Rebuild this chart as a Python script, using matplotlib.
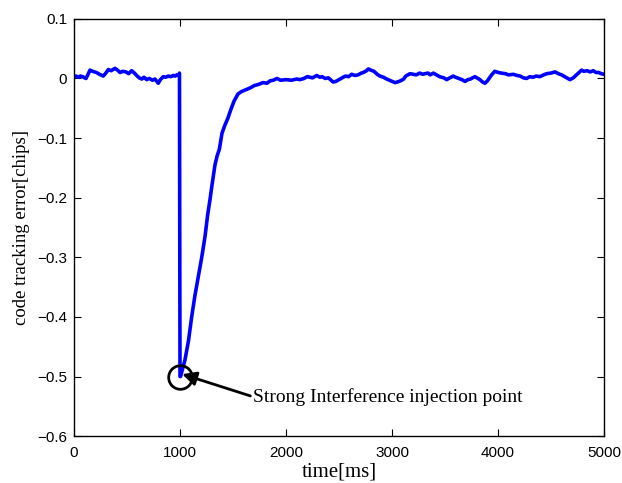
import matplotlib
matplotlib.use("Agg")
import matplotlib.pyplot as plt
from matplotlib.ticker import FuncFormatter

# time axis [ms] and code tracking error [chips]
t_ms = [0, 20, 40, 60, 80, 100, 113, 130, 151, 175, 212, 240, 276, 300, 324,
        350, 387, 410, 434, 460, 490, 515, 544, 570, 591, 615, 640, 660, 686,
        710, 740, 764, 795, 815, 842, 865, 890, 915, 937, 955, 970, 985, 995,
        1000,
        1005, 1020, 1047, 1080, 1110, 1140, 1173, 1205, 1236, 1260, 1283, 1305,
        1330, 1350, 1371, 1396, 1420, 1453, 1480, 1510, 1547, 1580, 1620, 1660,
        1700, 1740, 1783, 1820, 1850, 1880, 1915, 1950, 2000, 2050, 2100,
        2132, 2170, 2200, 2250, 2290, 2320, 2340, 2370, 2400, 2445, 2470, 2500,
        2530, 2560, 2590, 2620, 2650, 2680, 2710, 2730, 2760, 2777, 2800, 2830,
        2860, 2887, 2920, 2950, 2990, 3028, 3050, 3080, 3110, 3130, 3170, 3200,
        3230, 3260, 3290, 3310, 3340, 3360, 3390, 3420, 3450, 3490, 3516, 3545,
        3578, 3600, 3630, 3660, 3689, 3715, 3740, 3760, 3783, 3810, 3830, 3855,
        3877, 3900, 3940, 3970, 4003, 4030, 4070, 4100, 4145, 4180, 4210, 4240,
        4271, 4300, 4330, 4360, 4396, 4430, 4460, 4500, 4538, 4570, 4600, 4640,
        4679, 4710, 4740, 4765, 4789, 4810, 4840, 4870, 4899, 4925, 4950, 4975,
        5000]
err = [0.003, 0.004, 0.002, 0.004, 0.003, 0.001, 0.000, 0.006, 0.014, 0.012,
       0.010, 0.007, 0.004, 0.009, 0.015,
       0.013, 0.017, 0.014, 0.010, 0.012, 0.011, 0.008, 0.013, 0.009, 0.005,
       0.001, -0.001, 0.002, -0.002,
       0.000, -0.003, -0.001, -0.008, -0.002, 0.003, 0.002, 0.004, 0.003, 0.005,
       0.004, 0.006, 0.005, 0.009,
       -0.500,
       -0.500, -0.490, -0.472, -0.440, -0.400, -0.365, -0.332, -0.300, -0.265,
       -0.230, -0.203, -0.175,
       -0.145, -0.130, -0.119, -0.092, -0.080, -0.066, -0.052, -0.038, -0.026,
       -0.022, -0.019, -0.016,
       -0.012, -0.010, -0.007, -0.008, -0.004, -0.003, 0.000, -0.003, -0.002,
       -0.003, -0.001,
       -0.002, 0.000, 0.003, 0.001, 0.005, 0.002, 0.003, 0.000, 0.001, -0.006,
       -0.005, -0.002,
       0.001, 0.004, 0.003, 0.007, 0.005, 0.006, 0.009, 0.010, 0.013,
       0.016, 0.014, 0.012,
       0.007, 0.004, 0.002, -0.001, -0.004, -0.007, -0.006, -0.004, -0.001,
       0.004, 0.008, 0.007,
       0.006, 0.009, 0.007, 0.008, 0.009, 0.006, 0.009, 0.006, 0.003, 0.001,
       -0.002, 0.001,
       0.004, 0.002, 0.000, -0.002, -0.005, -0.002, -0.001, 0.001, 0.003,
       0.000, -0.002, -0.006,
       -0.008, -0.004, 0.006, 0.012, 0.010, 0.009, 0.008, 0.006, 0.007, 0.005,
       0.004, 0.001,
       0.000, 0.003, 0.002, 0.004, 0.003, 0.006, 0.008, 0.009, 0.011, 0.008,
       0.006, 0.002,
       -0.002, 0.001, 0.006, 0.010, 0.014, 0.012, 0.013, 0.011, 0.013, 0.010,
       0.010, 0.008,
       0.007]

x_ticks = [0, 1000, 2000, 3000, 4000, 5000]
y_ticks = [-0.6, -0.5, -0.4, -0.3, -0.2, -0.1, 0, 0.1]

inject_t = 1000
inject_err = -0.5
note = "Strong Interference injection point"

serif = "Liberation Serif"
plt.rcParams["font.family"] = "Liberation Sans"

fig = plt.figure(figsize=(6.22, 4.83), dpi=100)
ax = fig.add_axes([0.119, 0.097, 0.852, 0.864])

ax.plot(t_ms, err, color="#0000ff", lw=2.6)

# circle round the injection point + arrow with text
ax.plot(inject_t, inject_err, "o", mfc="none", mec="k", ms=17, mew=2)
ax.annotate(note, xy=(inject_t + 20, inject_err + 0.004),
            xytext=(1690, -0.534), va="center", ha="left",
            fontsize=14, family=serif,
            arrowprops=dict(arrowstyle="-|>,head_length=0.6,head_width=0.3",
                            color="k", lw=2, shrinkA=0, shrinkB=0,
                            relpos=(0, 0.5)))

ax.set_xlim(0, 5000)
ax.set_ylim(-0.6, 0.1)
ax.set_xticks(x_ticks)
ax.set_yticks(y_ticks)
ax.yaxis.set_major_formatter(FuncFormatter(lambda v, p: ("%g" % round(v, 2)).replace("-", "\u2212")))
ax.xaxis.set_tick_params(pad=7)
ax.tick_params(direction="in", top=True, right=True, length=5, width=0.8,
               labelsize=11)
ax.yaxis.set_tick_params(pad=5)
for s in ax.spines.values():
    s.set_linewidth(1.0)

ax.set_xlabel("time[ms]", family=serif, fontsize=15, labelpad=2)
ax.set_ylabel("code tracking error[chips]", family=serif, fontsize=13.5, labelpad=5)

fig.savefig("out.png", dpi=100)
